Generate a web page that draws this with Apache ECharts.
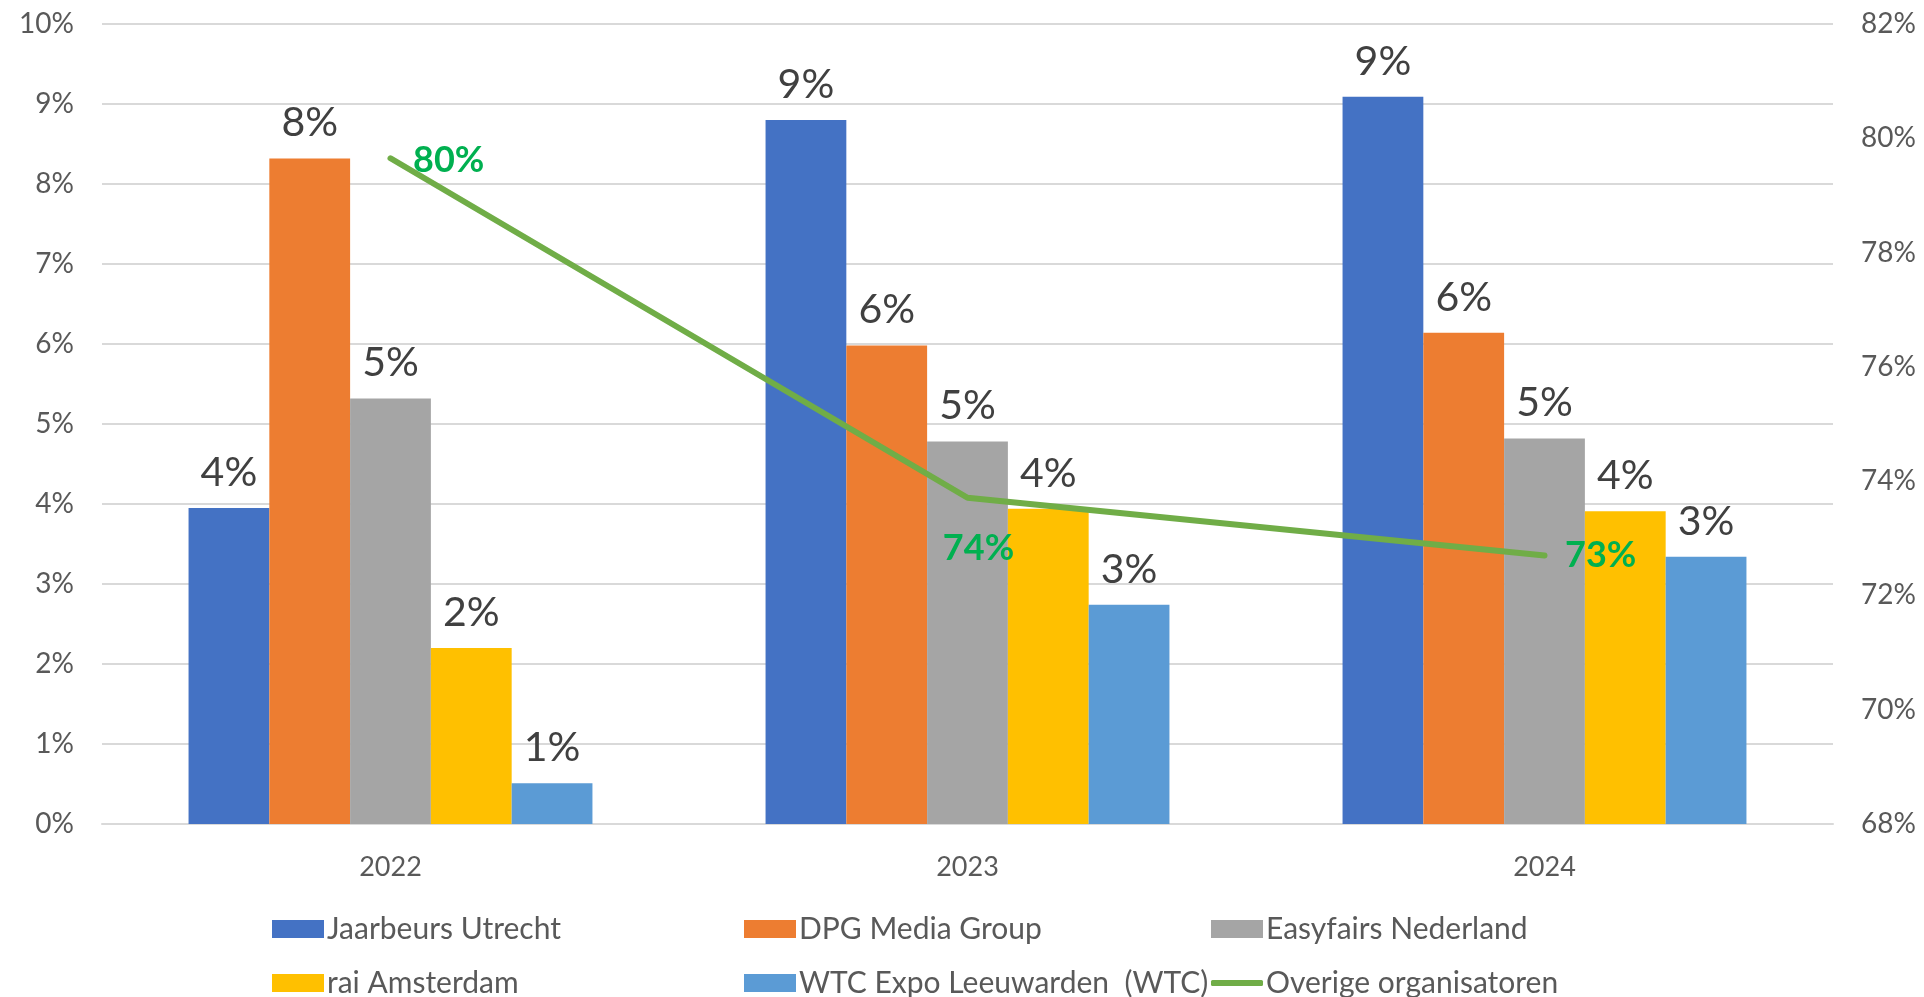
<!DOCTYPE html>
<html><head><meta charset="utf-8">
<script src="https://cdn.jsdelivr.net/npm/echarts@6/dist/echarts.min.js"></script>
<style>html,body{margin:0;padding:0;background:#fff}#c{width:1924px;height:997px}</style>
</head><body><div id="c"></div>
<script>
const categories = ['2022', '2023', '2024'];
const jaarbeurs = [3.95, 8.8, 9.09];
const dpg = [8.32, 5.98, 6.14];
const easyfairs = [5.32, 4.78, 4.82];
const rai = [2.2, 3.94, 3.91];
const wtc = [0.51, 2.74, 3.34];
const overige = [79.65, 73.71, 72.7];
const seriesNames = ['Jaarbeurs Utrecht', 'DPG Media Group', 'Easyfairs Nederland', 'rai Amsterdam', 'WTC Expo Leeuwarden  (WTC)', 'Overige organisatoren'];
const colors = ['#4472C4', '#ED7D31', '#A5A5A5', '#FFC000', '#5B9BD5', '#70AD47'];
const barData = [jaarbeurs, dpg, easyfairs, rai, wtc];
const lineLabelPos = ['right', 'bottom', 'right'];
const lineLabelDist = [22, 32, 20];
const lineLabelOffset = [[0, 2], [11, 0], [0, 0]];

const FONT = 'Lato, "Open Sans", sans-serif';
const chart = echarts.init(document.getElementById('c'));

const series = barData.map((d, i) => ({
  name: seriesNames[i], type: 'bar', yAxisIndex: 0,
  data: d, barGap: '0%', barCategoryGap: '30%',
  itemStyle: { color: colors[i] },
  label: { show: true, position: 'top', distance: 15, color: '#404040', fontSize: 41, fontFamily: FONT,
           formatter: p => Math.round(p.value) + '%' }
}));
series.push({
  name: seriesNames[5], type: 'line', yAxisIndex: 1,
  data: overige.map((v, i) => ({ value: v, label: { position: lineLabelPos[i], distance: lineLabelDist[i], offset: lineLabelOffset[i] } })),
  symbol: 'circle', symbolSize: 1,
  lineStyle: { color: colors[5], width: 6, cap: 'round' },
  itemStyle: { color: colors[5] },
  label: { show: true, color: '#00B050', fontSize: 36, fontWeight: 'bold', fontFamily: FONT,
           formatter: p => Math.round(p.value) + '%' }
});

const legendPos = [[267, 909], [739, 909], [1206, 909], [267, 963], [739, 963], [1206, 963]];
const legends = seriesNames.map((n, i) => ({
  data: [n], left: legendPos[i][0], top: legendPos[i][1],
  itemWidth: 52, itemHeight: i === 5 ? 6 : 18, itemGap: 0,
  icon: i === 5 ? 'roundRect' : 'rect',
  textStyle: { fontSize: 30, color: '#595959', fontFamily: FONT, padding: [0, 0, 0, -2] }
}));

chart.setOption({
  animation: false,
  textStyle: { fontFamily: FONT },
  legend: legends,
  grid: { left: 102, right: 91, top: 24, bottom: 173, containLabel: false },
  xAxis: {
    type: 'category', data: categories,
    axisLine: { show: true, lineStyle: { color: '#D9D9D9', width: 2 } },
    axisTick: { show: false },
    axisLabel: { color: '#595959', fontSize: 27, margin: 30, fontFamily: FONT }
  },
  yAxis: [
    { type: 'value', min: 0, max: 10, interval: 1,
      axisLabel: { formatter: '{value}%', color: '#595959', fontSize: 28, margin: 28, fontFamily: FONT },
      splitLine: { lineStyle: { color: '#D9D9D9', width: 2 } },
      axisLine: { show: false }, axisTick: { show: false } },
    { type: 'value', min: 68, max: 82, interval: 2, position: 'right',
      axisLabel: { formatter: '{value}%', color: '#595959', fontSize: 28, margin: 28, fontFamily: FONT },
      splitLine: { show: false }, axisLine: { show: false }, axisTick: { show: false } }
  ],
  series: series
});
</script></body></html>
